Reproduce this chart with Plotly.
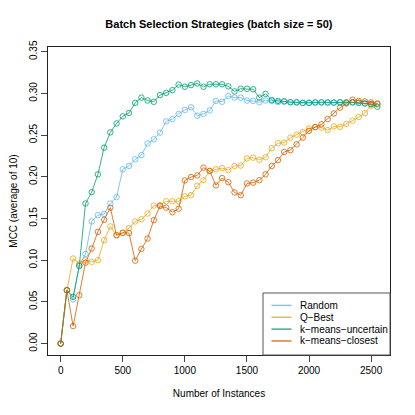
import plotly.graph_objects as go

instances = list(range(0, 2551, 50))

random_mcc = [0.0, 0.064, 0.053, 0.094, 0.1075, 0.1465, 0.154, 0.1555, 0.168, 0.1757,
              0.209, 0.213, 0.221, 0.226, 0.240, 0.245, 0.253, 0.2665, 0.2693, 0.2754,
              0.2802, 0.2834, 0.2733, 0.2754, 0.2797, 0.291, 0.290, 0.297, 0.295, 0.295,
              0.2915, 0.291, 0.2895, 0.2915, 0.291, 0.2895, 0.290, 0.2895, 0.289, 0.2885,
              0.289, 0.2895, 0.289, 0.2895, 0.289, 0.289, 0.2895, 0.289, 0.2885, 0.288,
              0.2875, 0.287]

qbest_mcc = [0.0, 0.064, 0.102, 0.096, 0.100, 0.098, 0.100, 0.124, 0.1405, 0.130,
             0.1325, 0.1385, 0.1465, 0.149, 0.156, 0.1655, 0.166, 0.1707, 0.1707, 0.1707,
             0.1767, 0.178, 0.1893, 0.196, 0.207, 0.209, 0.2105, 0.208, 0.213, 0.2135,
             0.222, 0.223, 0.2205, 0.2235, 0.2343, 0.2403, 0.241, 0.247, 0.2505, 0.2535,
             0.258, 0.2595, 0.259, 0.256, 0.2605, 0.260, 0.2635, 0.2673, 0.2717, 0.2764,
             0.2854, 0.2874]

kmeans_uncertain_mcc = [0.0, 0.064, 0.056, 0.093, 0.168, 0.1816, 0.203, 0.235, 0.2533, 0.264,
                        0.2725, 0.2766, 0.2887, 0.295, 0.2915, 0.290, 0.298, 0.3007, 0.304, 0.3106,
                        0.308, 0.310, 0.312, 0.308, 0.311, 0.311, 0.311, 0.3085, 0.3025, 0.3056,
                        0.3056, 0.305, 0.295, 0.2995, 0.292, 0.291, 0.2907, 0.2895, 0.2895, 0.2887,
                        0.2887, 0.289, 0.2895, 0.289, 0.289, 0.2895, 0.289, 0.2895, 0.289, 0.288,
                        0.287, 0.284]

kmeans_closest_mcc = [0.0, 0.064, 0.021, 0.058, 0.097, 0.114, 0.134, 0.1485, 0.163, 0.130,
                      0.133, 0.1325, 0.0995, 0.1135, 0.126, 0.148, 0.165, 0.163, 0.1575, 0.1617,
                      0.1957, 0.1997, 0.2017, 0.211, 0.207, 0.1898, 0.1985, 0.1936, 0.1812, 0.178,
                      0.192, 0.193, 0.196, 0.203, 0.213, 0.220, 0.2298, 0.232, 0.239, 0.247,
                      0.2552, 0.2597, 0.263, 0.2693, 0.276, 0.283, 0.288, 0.2925, 0.291, 0.2905,
                      0.2893, 0.288]

series_names = ["Random", "Q\u2212Best", "k\u2212means\u2212uncertain", "k\u2212means\u2212closest"]
series_values = [random_mcc, qbest_mcc, kmeans_uncertain_mcc, kmeans_closest_mcc]
series_colors = ["rgba(86,180,233,0.75)", "rgba(230,159,0,0.72)",
                 "rgba(0,158,115,0.8)", "rgba(213,94,0,0.8)"]

x_ticks = [0, 500, 1000, 1500, 2000, 2500]
y_ticks = [0.00, 0.05, 0.10, 0.15, 0.20, 0.25, 0.30, 0.35]

fig = go.Figure()
for name, vals, col in zip(series_names, series_values, series_colors):
    fig.add_trace(go.Scatter(
        x=instances, y=vals, mode="lines+markers", name=name, showlegend=False,
        line=dict(color=col, width=1),
        marker=dict(symbol="circle-open", size=5.5, color=col, line=dict(width=1, color=col)),
    ))

font_family = "Liberation Sans, Arial, sans-serif"

# custom legend (R-style compact box, lines only)
leg_x0, leg_x1, leg_y0, leg_y1 = 0.6287, 1.0, 0.0, 0.2013
fig.add_shape(type="rect", xref="paper", yref="paper",
              x0=leg_x0, x1=leg_x1, y0=leg_y0, y1=leg_y1,
              line=dict(color="#555", width=1), fillcolor="white", layer="above")
row_step = 0.0385
for k, (name, col) in enumerate(zip(series_names, series_colors)):
    yy = 0.161 - k * row_step
    fig.add_shape(type="line", xref="paper", yref="paper",
                  x0=0.6535, x1=0.712, y0=yy, y1=yy,
                  line=dict(color=col, width=1.5), layer="above")
    fig.add_annotation(xref="paper", yref="paper", x=0.731, y=yy,
                       text=name, showarrow=False, xanchor="left", yanchor="middle",
                       font=dict(size=10, family=font_family, color="black"))

fig.update_layout(
    width=415, height=415,
    margin=dict(l=48, r=25, t=47, b=60),
    paper_bgcolor="white", plot_bgcolor="white",
    font=dict(family=font_family, size=10, color="black"),
    showlegend=False,
    title=dict(text="<b>Batch Selection Strategies (batch size = 50)</b>",
               x=0.5275, xanchor="center", y=0.943, yanchor="middle",
               font=dict(size=11, family=font_family, color="black")),
    xaxis=dict(
        range=[-102, 2652], tickvals=x_ticks, ticktext=[str(v) for v in x_ticks],
        showgrid=False, zeroline=False, automargin=False,
        showline=True, mirror=True, linecolor="#222", linewidth=1,
        ticks="outside", ticklen=6, tickcolor="#444", tickwidth=1,
        title=dict(text="Number of Instances", standoff=14, font=dict(size=10)),
        tickfont=dict(size=10),
    ),
    yaxis=dict(
        range=[-0.0137, 0.3557], tickvals=y_ticks, ticktext=[f"{v:.2f}" for v in y_ticks],
        showgrid=False, zeroline=False, automargin=False,
        showline=True, mirror=True, linecolor="#222", linewidth=1,
        ticks="outside", ticklen=6, tickcolor="#444", tickwidth=1,
        tickangle=-90,
        title=dict(text="MCC (average of 10)", standoff=8, font=dict(size=10)),
        tickfont=dict(size=10),
    ),
)

fig.write_html("out.html", config={"displayModeBar": False},
               post_script="document.body.style.margin='0';")
